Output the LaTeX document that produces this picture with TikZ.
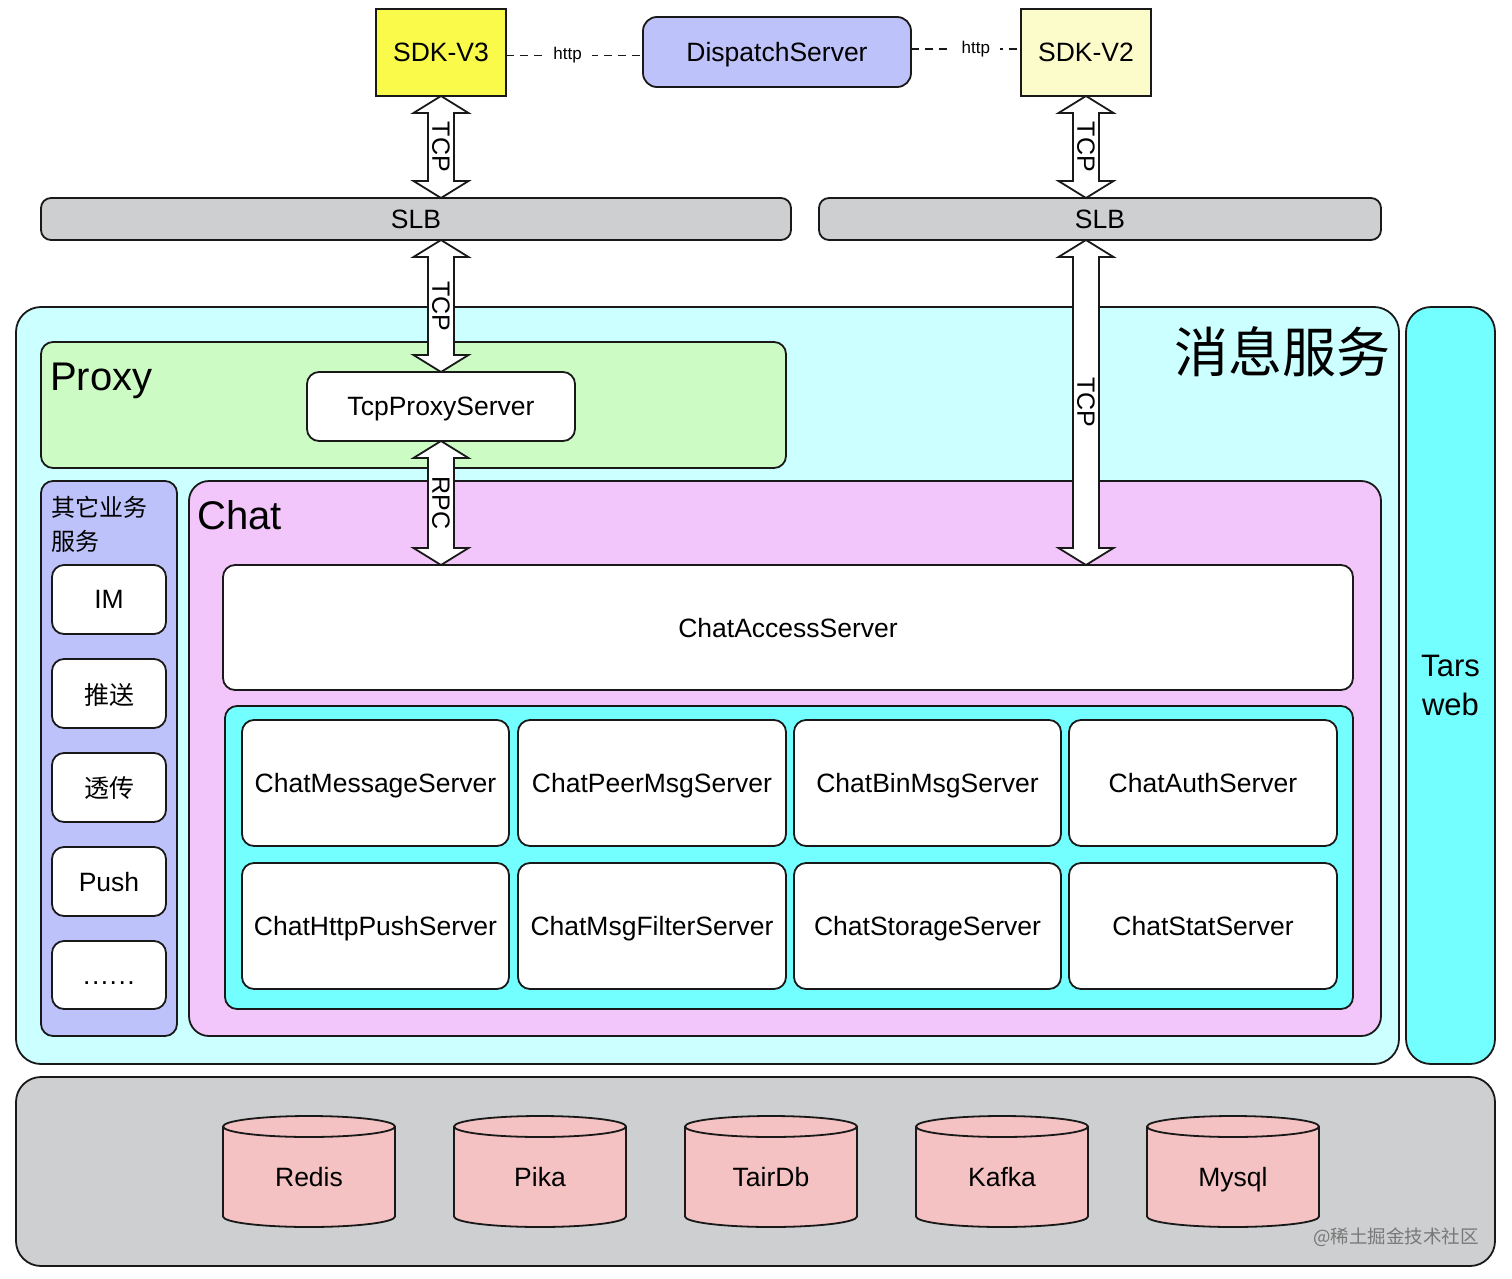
\documentclass[tikz,border=0pt]{standalone}
\usepackage{fontspec}
\setmainfont{Liberation Sans}
\newfontfamily\cjk{Noto Sans CJK SC}
\usetikzlibrary{calc}
\definecolor{sdkthree}{RGB}{250,250,75}
\definecolor{sdktwo}{RGB}{252,252,202}
\definecolor{lavender}{RGB}{190,194,250}
\definecolor{slbgray}{RGB}{205,207,208}
\definecolor{msgcyan}{RGB}{204,255,255}
\definecolor{tarscyan}{RGB}{115,255,255}
\definecolor{proxygreen}{RGB}{204,252,196}
\definecolor{chatpink}{RGB}{242,198,250}
\definecolor{dbpink}{RGB}{244,194,194}
\definecolor{edge}{RGB}{25,25,25}
\definecolor{wmark}{RGB}{120,120,120}
\tikzset{
  box/.style={draw=edge, line width=1.8pt, inner sep=0pt, outer sep=0pt, text depth=0pt,
    rounded corners=12pt, text=black, font=\fontsize{26.5}{30}\selectfont},
  fatarrow/.style={draw=edge, fill=white, line width=1.8pt, line join=miter},
  arrlabel/.style={rotate=-90, inner sep=0pt, font=\fontsize{25}{30}\selectfont},
  httpline/.style={draw=edge, line width=1.5pt, dash pattern=on 8pt off 6pt},
  httplabel/.style={fill=white, inner xsep=10pt, inner ysep=3pt, font=\fontsize{17}{20}\selectfont},
  biglabel/.style={inner sep=0pt, font=\fontsize{40}{46}\selectfont},
  dbstyle/.style={draw=edge, fill=dbpink, line width=1.8pt},
}
% #1 style, #2 name, #3 x1, #4 y1, #5 x2, #6 y2, #7 text
\newcommand\pnl[7][]{\node[box,#1,minimum width={(#5-#3)*1pt},minimum height={(#6-#4)*1pt}] (#2) at ({(#3+#5)/2},{(#4+#6)/2}) {#7};}
% fat double arrow from top point #1 to bottom point #2 with label #3
\newcommand\fatarr[3]{%
  \draw[fatarrow] (#1) -- ($(#1)+(27.5,17)$) -- ($(#1)+(13,17)$) -- ($(#2)+(13,-17)$)
    -- ($(#2)+(27.5,-17)$) -- (#2) -- ($(#2)+(-27.5,-17)$) -- ($(#2)+(-13,-17)$)
    -- ($(#1)+(-13,17)$) -- ($(#1)+(-27.5,17)$) -- cycle;
  \node[arrlabel] at ($(#1)!0.5!(#2)$) {#3};}
% cylinder: #1 name, #2 centre x, #3 text
\newcommand\db[3]{%
  \draw[dbstyle] ({#2-86},1126.5) -- ({#2-86},1216.5)
    arc[start angle=180, end angle=360, x radius=86pt, y radius=10.5pt]
    -- ({#2+86},1126.5)
    arc[start angle=0, end angle=180, x radius=86pt, y radius=10.5pt] -- cycle;
  \draw[draw=edge, line width=1.8pt] ({#2-86},1126.5)
    arc[start angle=180, end angle=360, x radius=86pt, y radius=10.5pt];
  \node[inner sep=0pt, text depth=0pt, font=\fontsize{26.5}{30}\selectfont] (#1) at (#2,1177) {#3};}
\begin{document}
\begin{tikzpicture}[x=1pt,y=-1pt]
\useasboundingbox[fill=white] (0,0) rectangle (1512,1279);
% top row
\pnl[fill=sdkthree, rounded corners=0pt]{sdkv3}{376}{9}{506}{96}{SDK-V3}
\pnl[fill=lavender, rounded corners=14pt]{dispatch}{643}{17}{911}{87}{DispatchServer}
\pnl[fill=sdktwo, rounded corners=0pt]{sdkv2}{1021}{9}{1151}{96}{SDK-V2}
\draw[httpline] ([yshift=-3pt]sdkv3.east) -- node[httplabel, pos=0.45]{http} ([yshift=-3pt]sdkv3.east -| dispatch.west);
\draw[httpline] ([yshift=3pt]dispatch.east) -- node[httplabel, pos=0.59]{http} ([yshift=3pt]dispatch.east -| sdkv2.west);
% SLB bars
\pnl[fill=slbgray, rounded corners=10pt]{slbL}{41}{198}{791}{240}{SLB}
\pnl[fill=slbgray, rounded corners=10pt]{slbR}{819}{198}{1381}{240}{SLB}
% message service
\pnl[fill=msgcyan, rounded corners=25pt]{msg}{16}{307}{1399}{1064}{}
\node[inner sep=0pt, anchor=east, font=\cjk\fontsize{54}{60}\selectfont] (msgtitle) at (1391,352) {消息服务};
\pnl[fill=tarscyan, rounded corners=25pt, align=center, font=\fontsize{31}{39}\selectfont]{tars}{1406}{307}{1495}{1064}{Tars\\web}
% proxy
\pnl[fill=proxygreen]{proxy}{41}{342}{786}{468}{}
\node[biglabel, anchor=base west] (proxytitle) at (50,390) {Proxy};
\pnl[fill=white]{tcpproxy}{307}{372}{575}{441}{TcpProxyServer}
% other services
\pnl[fill=lavender]{other}{41}{481}{177}{1036}{}
\node[inner sep=0pt, anchor=base west, font=\cjk\fontsize{24}{28}\selectfont] (othertitleA) at (51,516) {其它业务};
\node[inner sep=0pt, anchor=base west, font=\cjk\fontsize{24}{28}\selectfont] (othertitleB) at (51,550) {服务};
\pnl[fill=white]{im}{52}{565}{166}{634}{IM}
\pnl[fill=white, font=\cjk\fontsize{25}{30}\selectfont]{tuisong}{52}{659}{166}{728}{推送}
\pnl[fill=white, font=\cjk\fontsize{25}{30}\selectfont]{touchuan}{52}{753}{166}{822}{透传}
\pnl[fill=white]{push}{52}{847}{166}{916}{Push}
\pnl[fill=white]{more}{52}{941}{166}{1009}{\vphantom{IM}.\kern1.5pt.\kern1.5pt.\kern1.5pt.\kern1.5pt.\kern1.5pt.}
% chat
\pnl[fill=chatpink, rounded corners=20pt]{chat}{189}{481}{1381}{1036}{}
\node[biglabel, anchor=base west] (chattitle) at (197,529) {Chat};
\pnl[fill=white]{access}{223}{565}{1353}{690}{ChatAccessServer}
\pnl[fill=tarscyan]{inner}{225}{706}{1353}{1009}{}
\pnl[fill=white]{s11}{242}{720}{509}{846}{ChatMessageServer}
\pnl[fill=white]{s12}{518}{720}{786}{846}{ChatPeerMsgServer}
\pnl[fill=white]{s13}{794}{720}{1061}{846}{ChatBinMsgServer}
\pnl[fill=white]{s14}{1069}{720}{1337}{846}{ChatAuthServer}
\pnl[fill=white]{s21}{242}{863}{509}{989}{ChatHttpPushServer}
\pnl[fill=white]{s22}{518}{863}{786}{989}{ChatMsgFilterServer}
\pnl[fill=white]{s23}{794}{863}{1061}{989}{ChatStorageServer}
\pnl[fill=white]{s24}{1069}{863}{1337}{989}{ChatStatServer}
% storage
\pnl[fill=slbgray, rounded corners=25pt]{store}{16}{1077}{1495}{1266}{}
\db{redis}{309}{Redis}
\db{pika}{540}{Pika}
\db{tairdb}{771}{TairDb}
\db{kafka}{1002}{Kafka}
\db{mysql}{1233}{Mysql}
\node[inner sep=0pt, anchor=east, text=wmark, font=\cjk\fontsize{18.5}{22}\selectfont] (watermark) at (1479,1237) {@稀土掘金技术社区};
% connectors
\coordinate (a1) at (sdkv3.south |- slbL.north);
\fatarr{sdkv3.south}{a1}{TCP}
\coordinate (a2) at (sdkv2.south |- slbR.north);
\fatarr{sdkv2.south}{a2}{TCP}
\coordinate (a3) at (tcpproxy.north |- slbL.south);
\fatarr{a3}{tcpproxy.north}{TCP}
\coordinate (a4) at (tcpproxy.south |- access.north);
\fatarr{tcpproxy.south}{a4}{RPC}
\coordinate (a5t) at (sdkv2.south |- slbR.south);
\coordinate (a5b) at (sdkv2.south |- access.north);
\fatarr{a5t}{a5b}{TCP}
\end{tikzpicture}
\end{document}
